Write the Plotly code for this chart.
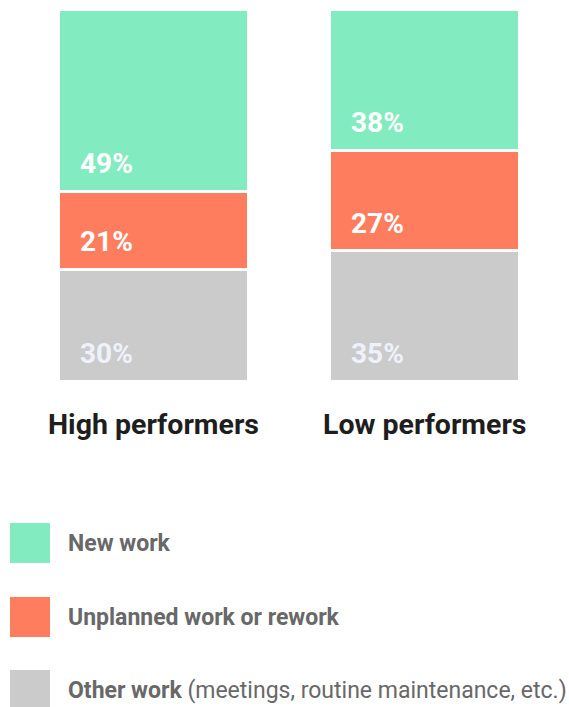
import plotly.graph_objects as go

# ---- data ----
groups = ["High performers", "Low performers"]
series_names = ["Other work", "Unplanned work or rework", "New work"]
other_work = [30, 35]
unplanned_work = [21, 27]
new_work = [49, 38]
legend_labels = ["<b>New work</b>", "<b>Unplanned work or rework</b>",
                 "<b>Other work</b> (meetings, routine maintenance, etc.)"]

colors = {"Other work": "#CBCBCB", "Unplanned work or rework": "#FF7D5F", "New work": "#82EBC0"}
label_colors = {"Other work": "#EFF1FA", "Unplanned work or rework": "#FFFFFF", "New work": "#FFFFFF"}
series_values = [other_work, unplanned_work, new_work]

W, H = 569, 707
FONT = "Roboto"

fig = go.Figure()
for name, vals in zip(series_names, series_values):
    fig.add_trace(go.Bar(
        x=groups, y=vals, name=name, width=0.70,
        marker=dict(color=colors[name], line=dict(color="white", width=3)),
        hoverinfo="skip", showlegend=False,
    ))

# value labels: left aligned near the bottom of each segment
annotations = []
for gi, g in enumerate(groups):
    base = 0
    for name, vals in zip(series_names, series_values):
        annotations.append(dict(
            x=g, y=base, xref="x", yref="y", text=f"<b>{vals[gi]}%</b>",
            showarrow=False, xanchor="left", yanchor="bottom",
            xshift=-76, yshift=9,
            font=dict(family=FONT, size=28, color=label_colors[name]),
        ))
        base += vals[gi]

# category labels, centred under the bars
for g in groups:
    annotations.append(dict(
        x=g, y=(H - 424) / H, xref="x", yref="paper", text=f"<b>{g}</b>",
        showarrow=False, xanchor="center", yanchor="middle",
        font=dict(family=FONT, size=28.5, color="#1E1E1E"),
    ))

# custom legend
legend_colors = [colors["New work"], colors["Unplanned work or rework"], colors["Other work"]]
legend_tops = [523, 597, 670]
shapes = []
for lab, col, top in zip(legend_labels, legend_colors, legend_tops):
    shapes.append(dict(type="rect", xref="paper", yref="paper",
                       x0=10 / W, x1=50 / W, y0=(H - top) / H, y1=(H - top - 40) / H,
                       fillcolor=col, line=dict(width=0)))
    annotations.append(dict(
        x=66 / W, y=(H - top - 20) / H, xref="paper", yref="paper", text=lab,
        showarrow=False, xanchor="left", yanchor="middle",
        font=dict(family=FONT, size=23, color="#686868"),
    ))

fig.update_layout(
    width=W, height=H,
    margin=dict(l=0, r=0, t=0, b=0),
    paper_bgcolor="white", plot_bgcolor="white",
    barmode="stack",
    xaxis=dict(domain=[18 / W, 560 / W], range=[-0.5, 1.5], showticklabels=False,
               showgrid=False, zeroline=False, showline=False),
    yaxis=dict(domain=[(H - 381) / H, (H - 9) / H], range=[0, 100], showticklabels=False,
               showgrid=False, zeroline=False, showline=False),
    annotations=annotations,
    shapes=shapes,
)

fig.write_html("out.html", config={"displayModeBar": False},
               post_script="document.body.style.margin='0';document.body.style.overflow='hidden';")
